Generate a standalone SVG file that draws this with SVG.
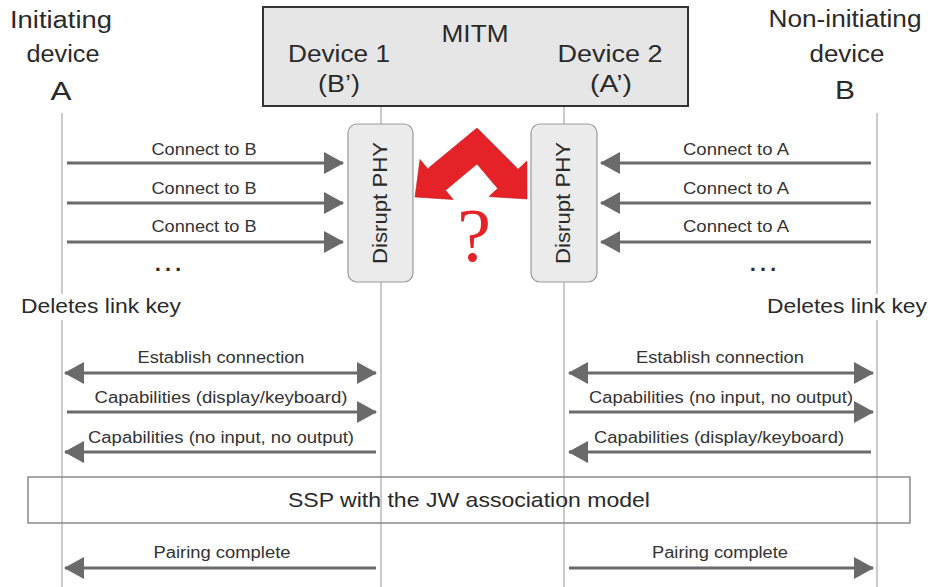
<svg xmlns="http://www.w3.org/2000/svg" width="932" height="587" viewBox="0 0 932 587">
  <defs>
    <marker id="ah" markerUnits="userSpaceOnUse" markerWidth="20" markerHeight="22" refX="19" refY="11" orient="auto-start-reverse">
      <path d="M0,0 L20,11 L0,22 z" fill="#6a6a6a"/>
    </marker>
    <style>
      text { font-family: "Liberation Sans", Arial, sans-serif; fill: #2a2a2a; }
      .hd { font-size: 23px; text-anchor: middle; }
      .big { font-size: 26px; text-anchor: middle; }
      .lbl { font-size: 16px; text-anchor: middle; fill: #333; }
      .del { font-size: 20px; text-anchor: middle; }
      .life { stroke: #a8a8a8; stroke-width: 1.2; fill: none; }
      .msg { stroke: #6a6a6a; stroke-width: 3; fill: none; }
      .one { marker-end: url(#ah); }
      .two { marker-start: url(#ah); marker-end: url(#ah); }
      .phy { fill: #ebebeb; stroke: #9a9a9a; stroke-width: 1.2; }
      .phyt { font-size: 20px; text-anchor: middle; }
      .dots { font-size: 32px; }
    </style>
  </defs>
  <rect width="932" height="587" fill="#ffffff"/>

  <!-- lifelines -->
  <g id="lifelines">
    <line class="life" x1="62" y1="113" x2="62" y2="587"/>
    <line class="life" x1="381" y1="106" x2="381" y2="587"/>
    <line class="life" x1="564" y1="106" x2="564" y2="587"/>
    <line class="life" x1="877" y1="113" x2="877" y2="587"/>
  </g>

  <g id="device-A">
    <text class="hd" x="61" y="28" textLength="102" lengthAdjust="spacingAndGlyphs">Initiating</text>
    <text class="hd" x="63" y="62" textLength="73" lengthAdjust="spacingAndGlyphs">device</text>
    <text class="big" x="61" y="100" textLength="21" lengthAdjust="spacingAndGlyphs">A</text>
  </g>

  <g id="device-B">
    <text class="hd" x="845" y="27" textLength="153" lengthAdjust="spacingAndGlyphs">Non-initiating</text>
    <text class="hd" x="847" y="62" textLength="75" lengthAdjust="spacingAndGlyphs">device</text>
    <text class="big" x="845" y="99" textLength="20" lengthAdjust="spacingAndGlyphs">B</text>
  </g>

  <g id="mitm">
    <rect x="263" y="7" width="425" height="99" fill="#e6e6e6" stroke="#333333" stroke-width="2"/>
    <text class="hd" x="475" y="42" textLength="67" lengthAdjust="spacingAndGlyphs">MITM</text>
    <text class="hd" x="339" y="62" textLength="102" lengthAdjust="spacingAndGlyphs">Device 1</text>
    <text class="hd" x="339" y="92" textLength="42" lengthAdjust="spacingAndGlyphs">(B’)</text>
    <text class="hd" x="610" y="62" textLength="105" lengthAdjust="spacingAndGlyphs">Device 2</text>
    <text class="hd" x="611" y="92" textLength="42" lengthAdjust="spacingAndGlyphs">(A’)</text>
  </g>

  <g id="disrupt-1">
    <rect class="phy" x="348" y="124" width="65" height="158" rx="9"/>
    <text class="phyt" transform="translate(387,203) rotate(-90)" x="0" y="0" textLength="122" lengthAdjust="spacingAndGlyphs">Disrupt PHY</text>
  </g>

  <g id="disrupt-2">
    <rect class="phy" x="531" y="124" width="66" height="158" rx="9"/>
    <text class="phyt" transform="translate(570,203) rotate(-90)" x="0" y="0" textLength="122" lengthAdjust="spacingAndGlyphs">Disrupt PHY</text>
  </g>

  <g id="attack">
    <polygon points="477,128 518.1,169.2 526.9,161 527,199 488.9,196.6 497.7,188.4 477,164 445.5,190.3 453.2,199.5 415,197 420,159.5 427.7,168.7" fill="#e42227" stroke="#c81b1f" stroke-width="0.6" stroke-linejoin="miter"/>
    <text x="474" y="261" text-anchor="middle" style="font-family: 'Liberation Serif', 'Times New Roman', serif; font-size: 76px; fill: #e42227;">?</text>
  </g>

  <g id="notes">
    <text class="dots" x="152" y="271">…</text>
    <text class="dots" x="747" y="271">…</text>
    <rect x="19" y="294" width="164" height="26" fill="#ffffff"/>
    <text class="del" x="101" y="313" textLength="160" lengthAdjust="spacingAndGlyphs">Deletes link key</text>
    <rect x="765" y="294" width="164" height="26" fill="#ffffff"/>
    <text class="del" x="847" y="313" textLength="160" lengthAdjust="spacingAndGlyphs">Deletes link key</text>
  </g>

  <g id="ssp">
    <rect x="28" y="477" width="882" height="46" fill="none" stroke="#8a8a8a" stroke-width="1.5"/>
    <text x="469" y="507" text-anchor="middle" style="font-size: 21px;" textLength="362" lengthAdjust="spacingAndGlyphs">SSP with the JW association model</text>
  </g>

  <g id="connectors">
    <!-- A -> B' -->
    <line class="msg one" x1="67" y1="163" x2="343" y2="163"/>
    <line class="msg one" x1="67" y1="203" x2="343" y2="203"/>
    <line class="msg one" x1="67" y1="242" x2="343" y2="242"/>
    <!-- B -> A' -->
    <line class="msg one" x1="871" y1="163" x2="601" y2="163"/>
    <line class="msg one" x1="871" y1="203" x2="601" y2="203"/>
    <line class="msg one" x1="871" y1="242" x2="601" y2="242"/>
    <!-- lower left -->
    <line class="msg two" x1="65" y1="373" x2="376" y2="373"/>
    <line class="msg one" x1="67" y1="412" x2="376" y2="412"/>
    <line class="msg one" x1="376" y1="452" x2="65" y2="452"/>
    <line class="msg one" x1="376" y1="568" x2="65" y2="568"/>
    <!-- lower right -->
    <line class="msg two" x1="569" y1="373" x2="873" y2="373"/>
    <line class="msg one" x1="569" y1="412" x2="873" y2="412"/>
    <line class="msg one" x1="871" y1="452" x2="569" y2="452"/>
    <line class="msg one" x1="569" y1="568" x2="873" y2="568"/>
  </g>

  <g id="labels">
    <text class="lbl" x="204" y="155" textLength="105" lengthAdjust="spacingAndGlyphs">Connect to B</text>
    <text class="lbl" x="204" y="194" textLength="105" lengthAdjust="spacingAndGlyphs">Connect to B</text>
    <text class="lbl" x="204" y="232" textLength="105" lengthAdjust="spacingAndGlyphs">Connect to B</text>
    <text class="lbl" x="736" y="155" textLength="106" lengthAdjust="spacingAndGlyphs">Connect to A</text>
    <text class="lbl" x="736" y="194" textLength="106" lengthAdjust="spacingAndGlyphs">Connect to A</text>
    <text class="lbl" x="736" y="232" textLength="106" lengthAdjust="spacingAndGlyphs">Connect to A</text>
    <text class="lbl" x="221" y="363" textLength="167" lengthAdjust="spacingAndGlyphs">Establish connection</text>
    <text class="lbl" x="221" y="403" textLength="253" lengthAdjust="spacingAndGlyphs">Capabilities (display/keyboard)</text>
    <text class="lbl" x="221" y="443" textLength="266" lengthAdjust="spacingAndGlyphs">Capabilities (no input, no output)</text>
    <text class="lbl" x="222" y="558" textLength="137" lengthAdjust="spacingAndGlyphs">Pairing complete</text>
    <text class="lbl" x="720" y="363" textLength="168" lengthAdjust="spacingAndGlyphs">Establish connection</text>
    <text class="lbl" x="721" y="403" textLength="264" lengthAdjust="spacingAndGlyphs">Capabilities (no input, no output)</text>
    <text class="lbl" x="719" y="443" textLength="250" lengthAdjust="spacingAndGlyphs">Capabilities (display/keyboard)</text>
    <text class="lbl" x="720" y="558" textLength="136" lengthAdjust="spacingAndGlyphs">Pairing complete</text>
  </g>
</svg>
